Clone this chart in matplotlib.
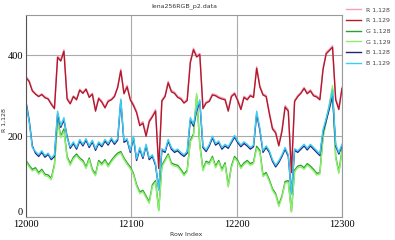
import numpy as np
import matplotlib
matplotlib.use('Agg')
import matplotlib.pyplot as plt

# row index (every 3rd row of the data file)
rows = np.arange(12000, 12301, 3)

r_128 = [348, 338, 315, 306, 300, 305, 298, 294, 282, 270, 398, 390, 414, 296, 283, 300, 293, 316, 309, 318,
         300, 306, 266, 296, 287, 273, 289, 292, 301, 323, 366, 309, 326, 294, 280, 262, 230, 236, 205, 240,
         252, 266, 125, 290, 301, 336, 314, 309, 299, 295, 285, 291, 386, 418, 400, 405, 272, 285, 289, 305,
         303, 298, 295, 293, 266, 301, 308, 291, 270, 299, 293, 303, 299, 372, 326, 305, 301, 260, 222, 212,
         180, 216, 276, 266, 115, 289, 301, 309, 321, 308, 315, 303, 300, 293, 369, 408, 415, 424, 294, 270, 321]
r_129 = [345, 335, 312, 304, 298, 303, 295, 292, 279, 268, 395, 386, 410, 292, 280, 298, 290, 314, 306, 316,
         296, 304, 262, 293, 284, 270, 286, 290, 298, 320, 362, 305, 322, 290, 276, 258, 226, 232, 200, 236,
         248, 262, 120, 287, 298, 332, 310, 306, 296, 292, 282, 288, 382, 414, 396, 402, 268, 282, 286, 302,
         300, 295, 292, 290, 262, 298, 305, 288, 266, 296, 290, 300, 296, 368, 322, 302, 298, 256, 218, 208,
         176, 212, 272, 262, 110, 286, 298, 306, 318, 305, 312, 300, 297, 290, 365, 404, 412, 420, 290, 266, 318]
g_128 = [140, 128, 118, 122, 110, 118, 106, 104, 96, 130, 240, 200, 218, 150, 132, 148, 156, 146, 140, 124,
         146, 118, 106, 140, 132, 142, 128, 140, 150, 158, 162, 146, 134, 124, 108, 80, 62, 66, 52, 38,
         80, 90, 17, 128, 142, 156, 134, 130, 128, 118, 106, 116, 190, 205, 300, 180, 118, 138, 134, 150,
         126, 140, 118, 134, 78, 126, 150, 140, 124, 134, 140, 132, 136, 175, 165, 104, 110, 92, 70, 58,
         30, 52, 88, 90, 14, 116, 126, 128, 122, 132, 126, 118, 108, 110, 200, 240, 275, 318, 150, 112, 166]
g_129 = [136, 124, 114, 118, 106, 114, 102, 100, 92, 126, 234, 196, 212, 146, 128, 144, 152, 142, 136, 120,
         142, 114, 102, 136, 128, 138, 124, 136, 146, 154, 158, 142, 130, 120, 104, 76, 58, 62, 48, 34,
         76, 86, 15, 124, 138, 152, 130, 126, 124, 114, 102, 112, 186, 200, 306, 176, 114, 134, 130, 146,
         122, 136, 114, 130, 74, 122, 146, 136, 120, 130, 136, 128, 132, 170, 160, 100, 106, 88, 66, 54,
         26, 48, 84, 86, 12, 112, 122, 124, 118, 128, 122, 114, 104, 106, 196, 236, 280, 325, 146, 108, 162]
b_128 = [285, 240, 176, 158, 150, 160, 148, 155, 142, 150, 255, 222, 240, 200, 170, 182, 168, 188, 176, 190,
         172, 186, 165, 182, 174, 188, 178, 192, 180, 190, 288, 185, 190, 160, 196, 140, 168, 145, 176, 142,
         150, 128, 70, 165, 160, 188, 168, 160, 164, 156, 150, 158, 240, 225, 262, 285, 172, 162, 176, 196,
         178, 184, 168, 176, 170, 184, 198, 184, 174, 182, 176, 168, 174, 255, 215, 160, 172, 160, 138, 124,
         135, 150, 168, 150, 60, 165, 160, 168, 176, 166, 176, 168, 160, 152, 210, 238, 268, 300, 176, 156, 176]
b_129 = [280, 236, 172, 162, 154, 164, 152, 158, 146, 154, 262, 226, 246, 196, 174, 186, 172, 192, 180, 194,
         176, 190, 169, 186, 178, 192, 182, 196, 184, 194, 292, 189, 194, 164, 200, 144, 172, 149, 180, 146,
         154, 132, 66, 169, 164, 192, 172, 164, 168, 160, 154, 162, 246, 230, 268, 290, 176, 166, 180, 200,
         182, 188, 172, 180, 174, 188, 202, 188, 178, 186, 180, 172, 178, 262, 220, 164, 176, 164, 142, 128,
         139, 154, 172, 154, 56, 169, 164, 172, 180, 170, 180, 172, 164, 156, 216, 244, 276, 314, 180, 160, 180]

series = [
    ('R 1,128', r_128, '#f2a2b8'),
    ('R 1,129', r_129, '#b3182c'),
    ('G 1,128', g_128, '#2e9e2e'),
    ('G 1,129', g_129, '#8cf06c'),
    ('B 1,128', b_128, '#22227e'),
    ('B 1,129', b_129, '#3ccdf2'),
]

fig = plt.figure(figsize=(3.95, 2.40), dpi=100)
ax = fig.add_axes([26/395, 1-217/240, 316/395, 202/240])

for name, vals, col in series:
    ax.plot(rows, vals, color=col, lw=1.0, label=name)

ax.set_xlim(12000, 12300)
ax.set_ylim(0, 500)
ax.set_xticks([12000, 12100, 12200, 12300])
ax.set_yticks([0, 200, 400])
ax.grid(True, color='#aaaaaa', lw=0.8)
ax.set_axisbelow(True)
ax.tick_params(length=0, pad=2, labelsize=7.5, colors='#000000')
for lab in ax.get_xticklabels() + ax.get_yticklabels():
    lab.set_family('Liberation Serif')
# the "0" label sits on top of the axis line, like in the original
ax.get_yticklabels()[0].set_verticalalignment('bottom')
for s in ['top', 'right', 'bottom']:
    ax.spines[s].set_color('#999999')
ax.spines['left'].set_color('#555555')

fig.text(184/395, 1-6/240, 'lena256RGB_p2.data', ha='center', va='center', fontsize=4.5, color='#333333')
fig.text(4/395, 0.5, 'R 1,128', rotation=90, ha='center', va='center', fontsize=4.5, color='#333333')
fig.text(186/395, 1-235/240, 'Row Index', ha='center', va='center', fontsize=4.5, color='#333333')

leg = fig.legend(loc='upper left', bbox_to_anchor=(346/395, 1-7/240), frameon=False,
                 fontsize=4.5, handlelength=2.4, handletextpad=0.8, labelspacing=0.85,
                 borderaxespad=0, borderpad=0)
for t in leg.get_texts():
    t.set_color('#444444')

plt.savefig('out.png', dpi=100)
